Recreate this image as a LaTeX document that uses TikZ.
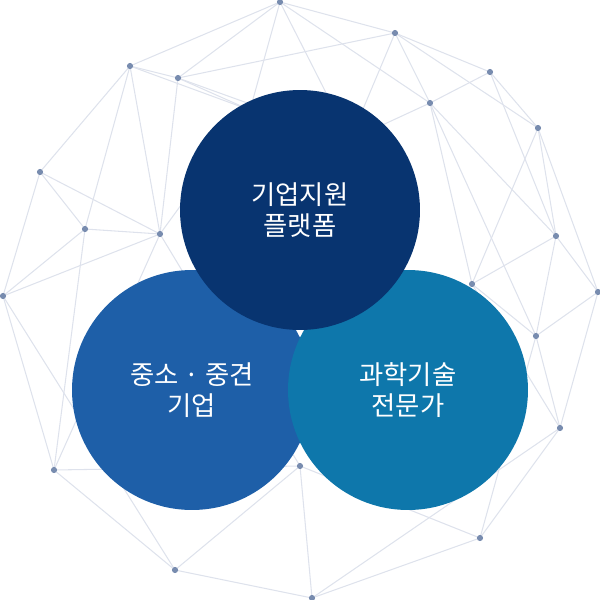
\documentclass[tikz,border=0pt]{standalone}
\usepackage{fontspec}
\newfontfamily\kor{Noto Sans CJK KR}
\definecolor{TopNavy}{RGB}{8,52,112}
\definecolor{LeftBlue}{RGB}{30,95,168}
\definecolor{RightTeal}{RGB}{14,119,171}
\definecolor{NetLine}{RGB}{222,226,236}
\definecolor{NetDot}{RGB}{120,140,175}
\begin{document}
\begin{tikzpicture}[x=0.02cm, y=-0.02cm,
    bubble/.style={circle, minimum size=4.8cm, inner sep=0pt, text=white, align=center, font=\kor\fontsize{15}{18}\selectfont},
    net/.style={NetLine, line width=0.6pt},
    dot/.style={circle, fill=NetDot, inner sep=0pt, minimum size=3.5pt}
  ]
  \useasboundingbox (0,0) rectangle (600,600);
  % network points
  \foreach \n/\x/\y in {a/280/2, b/395/33, c/490/72, d/538/128, e/130/66, f/178/78,
      g/430/103, h/40/172, i/85/229, j/160/234, k/556/236, l/3/296, m/598/292,
      n/472/284, o/536/336, p/560/428, q/54/470, r/300/466, s/480/538, t/175/570,
      u/312/598, v/250/110, w/350/140}
    \coordinate (\n) at (\x,\y);
  \foreach \s/\t in {a/b, a/f, a/e, a/g, a/v, a/w, b/c, b/g, b/f, b/d, b/w, c/d, c/g, c/k,
      d/k, d/m, d/n, g/k, g/n, g/o, e/f, e/h, e/j, e/i, f/j, f/v, h/i, h/l, h/j, i/l, i/j,
      i/q, j/l, j/q, j/v, l/q, l/t, k/m, k/n, k/o, m/o, m/p, n/o, n/p, o/p, p/s, o/s,
      q/t, q/r, r/t, r/u, t/u, u/s, r/s, p/u, w/g, v/w, j/r, e/v, f/w}
    \draw[net] (\s) -- (\t);
  \foreach \n in {a,b,c,d,e,f,g,h,i,j,k,l,m,n,o,p,q,r,s,t,u}
    \node[dot] at (\n) {};
  % circles
  \node (sme) [bubble, fill=LeftBlue] at (192,390) {중소 · 중견\\기업};
  \node (expert) [bubble, fill=RightTeal] at (408,390) {과학기술\\전문가};
  \node (platform) [bubble, fill=TopNavy] at (300,210) {기업지원\\플랫폼};
\end{tikzpicture}
\end{document}
